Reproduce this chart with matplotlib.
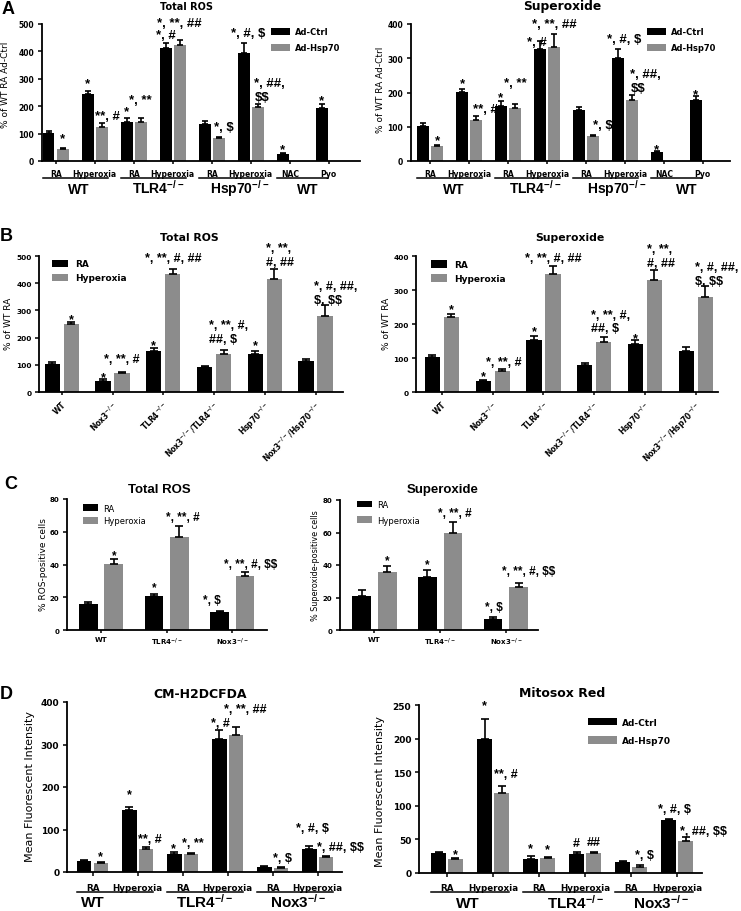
import numpy as np
import matplotlib
matplotlib.use("Agg")
import matplotlib.pyplot as plt
import matplotlib.transforms as mtransforms
from matplotlib.patches import Patch

plt.rcParams["font.family"] = "DejaVu Sans"
plt.rcParams["font.weight"] = "bold"
plt.rcParams["mathtext.default"] = "regular"
plt.rcParams["axes.linewidth"] = 1.3

W, H = 741, 912
BLACK = "#000000"
GREY = "#8c8c8c"
nan = np.nan

# ---------------- data ----------------
# A: adenoviral Hsp70 in WT / TLR4-/- / Hsp70-/- cells
a_conditions = ["RA", "Hyperoxia", "RA", "Hyperoxia", "RA", "Hyperoxia", "NAC", "Pyo"]
a_strains = ["WT", "TLR4$^{-/-}$", "Hsp70$^{-/-}$", "WT"]
a_ros_ctrl = [103, 246, 143, 414, 134, 393, 24, 193]
a_ros_ctrl_err = [7, 9, 13, 18, 11, 38, 6, 16]
a_ros_hsp = [45, 123, 143, 424, 84, 197, nan, nan]
a_ros_hsp_err = [4, 14, 13, 17, 3, 10, nan, nan]
a_sup_ctrl = [102, 202, 162, 328, 148, 300, 27, 178]
a_sup_ctrl_err = [8, 9, 13, 22, 11, 28, 2, 11]
a_sup_hsp = [45, 120, 154, 332, 74, 178, nan, nan]
a_sup_hsp_err = [2, 11, 12, 38, 3, 16, nan, nan]
a_ctrl_sig = ["", "*", "*", "*, #", "", "*, #, $", "*", "*"]
a_hsp_sig = ["*", "**, #", "*, **", "*, **, ##", "*, $", "*, ##,\n$$", "", ""]

# B: knockout combinations, RA vs hyperoxia
b_strains = ["WT", "Nox3$^{-/-}$", "TLR4$^{-/-}$", "Nox3$^{-/-}$/TLR4$^{-/-}$",
             "Hsp70$^{-/-}$", "Nox3$^{-/-}$/Hsp70$^{-/-}$"]
b_ros_ra = [103, 41, 150, 93, 141, 114]
b_ros_ra_err = [7, 5, 12, 4, 10, 6]
b_ros_hyp = [251, 70, 434, 138, 415, 280]
b_ros_hyp_err = [7, 5, 18, 15, 38, 39]
b_sup_ra = [103, 31, 153, 80, 142, 120]
b_sup_ra_err = [6, 3, 13, 6, 12, 12]
b_sup_hyp = [221, 61, 348, 148, 330, 278]
b_sup_hyp_err = [8, 6, 23, 14, 28, 35]
b_ra_sig = ["", "*", "*", "", "*", ""]
b_hyp_sig = ["*", "*, **, #", "*, **, #, ##", "*, **, #,\n##, $", "*, **,\n#, ##", "*, #, ##,\n$, $$"]

# C: percent positive cells
c_strains = ["WT", "TLR4$^{-/-}$", "Nox3$^{-/-}$"]
c_ros_ra = [16, 20.6, 10.8]
c_ros_ra_err = [1, 1.5, 0.8]
c_ros_hyp = [40.5, 56.5, 32.8]
c_ros_hyp_err = [3, 7, 2.4]
c_sup_ra = [21, 32.5, 6.8]
c_sup_ra_err = [3.6, 4.5, 1.4]
c_sup_hyp = [35.4, 59.5, 26.5]
c_sup_hyp_err = [4, 7, 2.6]
c_ra_sig = ["", "*", "*, $"]
c_hyp_sig = ["*", "*, **, #", "*, **, #, $$"]

# D: mean fluorescent intensity
d_conditions = ["RA", "Hyperoxia"] * 3
d_strains = ["WT", "TLR4$^{-/-}$", "Nox3$^{-/-}$"]
d_cm_ctrl = [27, 146, 43, 314, 12, 54]
d_cm_ctrl_err = [1.5, 8, 3, 19, 2, 8]
d_cm_hsp = [22, 53, 42, 323, 9.5, 36]
d_cm_hsp_err = [2.5, 5, 3, 18, 2, 2]
d_cm_ctrl_sig = ["", "*", "*", "*, #", "", "*, #, $"]
d_cm_hsp_sig = ["*", "**, #", "*, **", "*, **, ##", "*, $", "*, ##, $$"]
d_mito_ctrl = [30, 200, 21, 28, 16, 79]
d_mito_ctrl_err = [1.5, 29, 5, 3.5, 2, 2]
d_mito_hsp = [21, 119, 22, 30, 9, 47]
d_mito_hsp_err = [2, 11, 2, 1.5, 3, 7]
d_mito_ctrl_sig = ["", "*", "*", "#", "", "*, #, $"]
d_mito_hsp_sig = ["*", "**, #", "*", "##", "*, $", "*, ##, $$"]

fig = plt.figure(figsize=(W / 100, H / 100), dpi=100)


def px_axes(x0, y0, x1, y1):
    return fig.add_axes([x0 / W, 1 - y1 / H, (x1 - x0) / W, (y1 - y0) / H])


def setup(ax, xlim, ymax, ystep, ysize):
    ax.spines[["top", "right"]].set_visible(False)
    ax.set_xlim(*xlim)
    ax.set_ylim(0, ymax)
    ax.set_yticks(np.arange(0, ymax + 1, ystep))
    ax.tick_params(axis="both", width=1.1, length=3, labelsize=ysize)
    ax.tick_params(axis="y", pad=2.5)


def draw_pair(ax, v1, e1, v2, e2, width, off, cap):
    x = np.arange(len(v1))
    pos = (x - off, x + off)
    for xs, v, e, c in ((pos[0], v1, e1, BLACK), (pos[1], v2, e2, GREY)):
        v = np.asarray(v, float)
        e = np.asarray(e, float)
        ok = ~np.isnan(v)
        ax.bar(xs[ok], v[ok], width, color=c, zorder=2)
        ax.errorbar(xs[ok], v[ok], yerr=[np.zeros(ok.sum()), e[ok]], fmt="none",
                    ecolor=BLACK, elinewidth=1.2, capsize=cap, capthick=1.2, zorder=3)
    return pos


def sig(ax, xs, vals, errs, labels, size, nudges=None):
    nudges = nudges or {}
    for i, lab in enumerate(labels):
        if not lab:
            continue
        dx, dy = nudges.get(i, (0, 0))
        ax.annotate(lab, (xs[i], vals[i] + errs[i]), xytext=(dx * 0.72, (1.5 + dy) * 0.72),
                    textcoords="offset points", ha="center", va="bottom",
                    multialignment="left", fontsize=size, family="Liberation Sans",
                    weight="bold", zorder=4, annotation_clip=False, parse_math=False)


def strains_below(ax, spans, centers, names, line_px, base_px, size):
    tr = ax.get_xaxis_transform()
    tr_line = mtransforms.offset_copy(tr, fig=fig, y=-line_px * 0.72, units="points")
    for a, b in spans:
        ax.plot([a, b], [0, 0], color=BLACK, lw=1.1, transform=tr_line, clip_on=False)
    for c, n in zip(centers, names):
        ax.annotate(n, (c, 0), xycoords=tr, xytext=(0, -base_px * 0.72),
                    textcoords="offset points", ha="center", va="baseline", fontsize=size,
                    family="Liberation Sans", weight="bold", annotation_clip=False)


def legend(ax, labels, anchor, size, hl, hh, ls, tp, weight="bold"):
    handles = [Patch(facecolor=BLACK), Patch(facecolor=GREY)]
    ax.legend(handles, labels, loc="upper left", bbox_to_anchor=anchor, frameon=False,
              borderpad=0, borderaxespad=0, handlelength=hl, handleheight=hh,
              labelspacing=ls, handletextpad=tp,
              prop={"family": "DejaVu Sans", "weight": weight, "size": size})


def ftext(x, y, s, size, family="DejaVu Sans"):
    fig.text(x / W, 1 - y / H, s, ha="center", va="center", fontsize=size,
             family=family, weight="bold")


def pair_spans(pos, v2, width, pairs):
    spans = []
    for g0, g1 in pairs:
        right = pos[1][g1] if not np.isnan(v2[g1]) else pos[0][g1]
        spans.append((pos[0][g0] - width / 2, right + width / 2))
    return spans


# ---------------- panel A ----------------
def panel_a(box, xlim, ymax, ctrl, ctrl_err, hsp, hsp_err, ylab, ylab_xy, leg_xy,
            label_x, nud_c, nud_h):
    ax = px_axes(*box)
    setup(ax, xlim, ymax, 100, 5.5)
    pos = draw_pair(ax, ctrl, ctrl_err, hsp, hsp_err, 0.3, 0.18, 2.5)
    ax.set_xticks(np.arange(len(a_conditions)))
    ax.set_xticklabels(a_conditions, fontsize=5.5)
    ax.tick_params(axis="x", length=2.5, pad=3.2)
    sig(ax, pos[0], ctrl, ctrl_err, a_ctrl_sig, 9.5, nud_c)
    sig(ax, pos[1], hsp, hsp_err, a_hsp_sig, 9.5, nud_h)
    spans = pair_spans(pos, np.asarray(hsp, float), 0.3, [(0, 1), (2, 3), (4, 5), (6, 7)])
    strains_below(ax, spans, label_x, a_strains, 16.5, 32, 10)
    ax.set_ylabel(ylab, fontsize=6.5)
    ax.yaxis.set_label_coords(*ylab_xy)
    legend(ax, ["Ad-Ctrl", "Ad-Hsp70"], leg_xy, 6, 2.3, 0.85, 0.8, 0.6)
    return ax


panel_a((42, 25, 360, 162), (-0.35, 7.8), 500, a_ros_ctrl, a_ros_ctrl_err,
        a_ros_hsp, a_ros_hsp_err, "% of WT RA Ad-Ctrl", (-0.10, 0.56), (0.72, 0.975),
        [0.58, 2.63, 4.73, 6.47],
        {3: (0, 0), 5: (4, 2), 6: (0, -4), 7: (0, -4)},
        {0: (0, 2), 1: (6, 0), 2: (0, 11), 3: (0, 10), 4: (5, 3), 5: (12, 0)})
panel_a((411, 25, 730, 162), (-0.49, 7.7), 400, a_sup_ctrl, a_sup_ctrl_err,
        a_sup_hsp, a_sup_hsp_err, "% of WT RA Ad-Ctrl", (-0.082, 0.53), (0.74, 0.975),
        [0.6, 2.7, 4.8, 6.6],
        {1: (0, -2), 2: (0, -4), 3: (-3, -8), 5: (6, 2), 6: (0, -6), 7: (0, -5)},
        {0: (0, -3), 1: (9, 0), 2: (0, 14), 3: (0, 3), 4: (10, 2), 5: (14, -1)})
ftext(187, 6.5, "Total ROS", 7)
ftext(562, 6.5, "Superoxide", 8.8)


# ---------------- panel B ----------------
def panel_b(box, xlim, ymax, ra, ra_err, hyp, hyp_err, ylab_xy, leg_xy, nud_r, nud_h):
    ax = px_axes(*box)
    setup(ax, xlim, ymax, 100, 5.3)
    ax.tick_params(axis="y", pad=2)
    pos = draw_pair(ax, ra, ra_err, hyp, hyp_err, 0.3, 0.187, 2.8)
    ax.set_xticks(np.arange(len(b_strains)))
    ax.set_xticklabels(b_strains, fontsize=5.5, rotation=45, ha="right",
                       rotation_mode="anchor")
    ax.tick_params(axis="x", length=2.5, pad=2.5)
    sig(ax, pos[0], ra, ra_err, b_ra_sig, 9, nud_r)
    sig(ax, pos[1], hyp, hyp_err, b_hyp_sig, 9, nud_h)
    ax.set_ylabel("% of WT RA", fontsize=6.5)
    ax.yaxis.set_label_coords(*ylab_xy)
    legend(ax, ["RA", "Hyperoxia"], leg_xy, 6.5, 1.8, 0.9, 0.55, 0.8)
    return ax


panel_b((39, 257, 343, 393), (-0.45, 5.54), 500, b_ros_ra, b_ros_ra_err,
        b_ros_hyp, b_ros_hyp_err, (-0.084, 0.51), (0.043, 0.975),
        {1: (0, -5), 2: (0, -5), 4: (0, -2)},
        {0: (0, -5), 1: (0, 5), 2: (0, 4), 3: (5, 4), 4: (6, -1), 5: (11, -2)})
panel_b((416, 257, 718, 393), (-0.51, 5.44), 400, b_sup_ra, b_sup_ra_err,
        b_sup_hyp, b_sup_hyp_err, (-0.082, 0.51), (0.05, 0.97),
        {1: (0, -3), 2: (0, -3), 4: (0, -6)},
        {0: (0, -3), 1: (2, 0), 3: (7, 1), 4: (7, 0), 5: (12, -3)})
ftext(189, 238, "Total ROS", 7.8)
ftext(570, 238, "Superoxide", 7.8)


# ---------------- panel C ----------------
def panel_c(box, xlim, ra, ra_err, hyp, hyp_err, ylab, ylab_size, ylab_xy, leg_xy, ls,
            nud_r, nud_h):
    ax = px_axes(*box)
    setup(ax, xlim, 80, 20, 5)
    pos = draw_pair(ax, ra, ra_err, hyp, hyp_err, 0.285, 0.194, 3.2)
    ax.set_xticks(np.arange(len(c_strains)))
    ax.set_xticklabels(c_strains, fontsize=5)
    ax.tick_params(axis="x", length=2.5, pad=1.5)
    sig(ax, pos[0], ra, ra_err, c_ra_sig, 8.5, nud_r)
    sig(ax, pos[1], hyp, hyp_err, c_hyp_sig, 8.5, nud_h)
    ax.set_ylabel(ylab, fontsize=ylab_size)
    ax.yaxis.set_label_coords(*ylab_xy)
    legend(ax, ["RA", "Hyperoxia"], leg_xy, 6, 1.8, 0.85, ls, 0.6, weight="normal")
    return ax


panel_c((67, 500, 267, 631), (-0.52, 2.53), c_ros_ra, c_ros_ra_err, c_ros_hyp,
        c_ros_hyp_err, "% ROS-positive cells", 6.5, (-0.095, 0.51), (0.08, 0.965), 0.45,
        {1: (0, -1), 2: (-8, 3.5)}, {0: (0, -4), 1: (3, 2), 2: (6, 1)})
panel_c((340, 501, 538, 631), (-0.525, 2.49), c_sup_ra, c_sup_ra_err, c_sup_hyp,
        c_sup_hyp_err, "% Superoxide-positive cells", 5.8, (-0.101, 0.5), (0.086, 1.0), 0.8,
        {1: (0, -2), 2: (1, 2)}, {0: (0, -2), 1: (2, 1), 2: (10, 4)})
fig.text(159 / W, 1 - 490 / H, "Total ROS", ha="center", va="center", fontsize=9.5,
         family="Liberation Sans", weight="bold")
fig.text(443 / W, 1 - 490 / H, "Superoxide", ha="center", va="center", fontsize=9.5,
         family="Liberation Sans", weight="bold")


# ---------------- panel D ----------------
def panel_d(box, xlim, ymax, ystep, ctrl, ctrl_err, hsp, hsp_err, csig, hsig, ylab_xy,
            label_x, line_px, tick_pad, nud_c, nud_h):
    ax = px_axes(*box)
    setup(ax, xlim, ymax, ystep, 6.5)
    pos = draw_pair(ax, ctrl, ctrl_err, hsp, hsp_err, 0.32, 0.183, 2.8)
    ax.set_xticks(np.arange(len(d_conditions)))
    ax.set_xticklabels(d_conditions, fontsize=6.3)
    ax.tick_params(axis="x", length=3, pad=tick_pad)
    sig(ax, pos[0], ctrl, ctrl_err, csig, 9, nud_c)
    sig(ax, pos[1], hsp, hsp_err, hsig, 9, nud_h)
    spans = pair_spans(pos, np.asarray(hsp, float), 0.32, [(0, 1), (2, 3), (4, 5)])
    strains_below(ax, spans, label_x, d_strains, line_px, 34.5, 11)
    ax.set_ylabel("Mean Fluorescent Intensity", fontsize=8)
    ax.yaxis.set_label_coords(*ylab_xy)
    return ax


panel_d((67, 703, 342, 873), (-0.567, 5.54), 400, 100, d_cm_ctrl, d_cm_ctrl_err,
        d_cm_hsp, d_cm_hsp_err, d_cm_ctrl_sig, d_cm_hsp_sig, (-0.116, 0.506),
        [0, 2.5, 4.57], 20, 5.2,
        {1: (0, 4.7), 2: (-1, -3), 3: (1, 0), 5: (2.5, 10.4)},
        {0: (0, -1.6), 1: (4, 1), 2: (2, 2), 3: (9, 11), 4: (2, 2), 5: (15, 1)})
axd = panel_d((419, 706, 702, 874), (-0.61, 5.54), 250, 50, d_mito_ctrl, d_mito_ctrl_err,
              d_mito_hsp, d_mito_hsp_err, d_mito_ctrl_sig, d_mito_hsp_sig, (-0.12, 0.49),
              [0.46, 2.8, 4.66], 19, 4.5,
              {1: (0, 6), 3: (0, 1), 5: (6, 2)},
              {0: (0, -4.5), 1: (4, 4), 3: (0, 2), 4: (5, 2), 5: (18, -2)})
legend(axd, ["Ad-Ctrl", "Ad-Hsp70"], (0.597, 0.925), 6.5, 3.2, 0.9, 1.05, 0.55)
ftext(200, 695, "CM-H2DCFDA", 9)
ftext(562, 694, "Mitosox Red", 9)

# panel letters
for letter, (lx, ly) in {"A": (8.5, 9), "B": (6.5, 236.5), "C": (11, 484.5),
                         "D": (6.5, 694.5)}.items():
    fig.text(lx / W, 1 - ly / H, letter, ha="center", va="center", fontsize=13,
             family="Liberation Sans", weight="bold")

fig.savefig("out.png", dpi=100)
plt.close(fig)
